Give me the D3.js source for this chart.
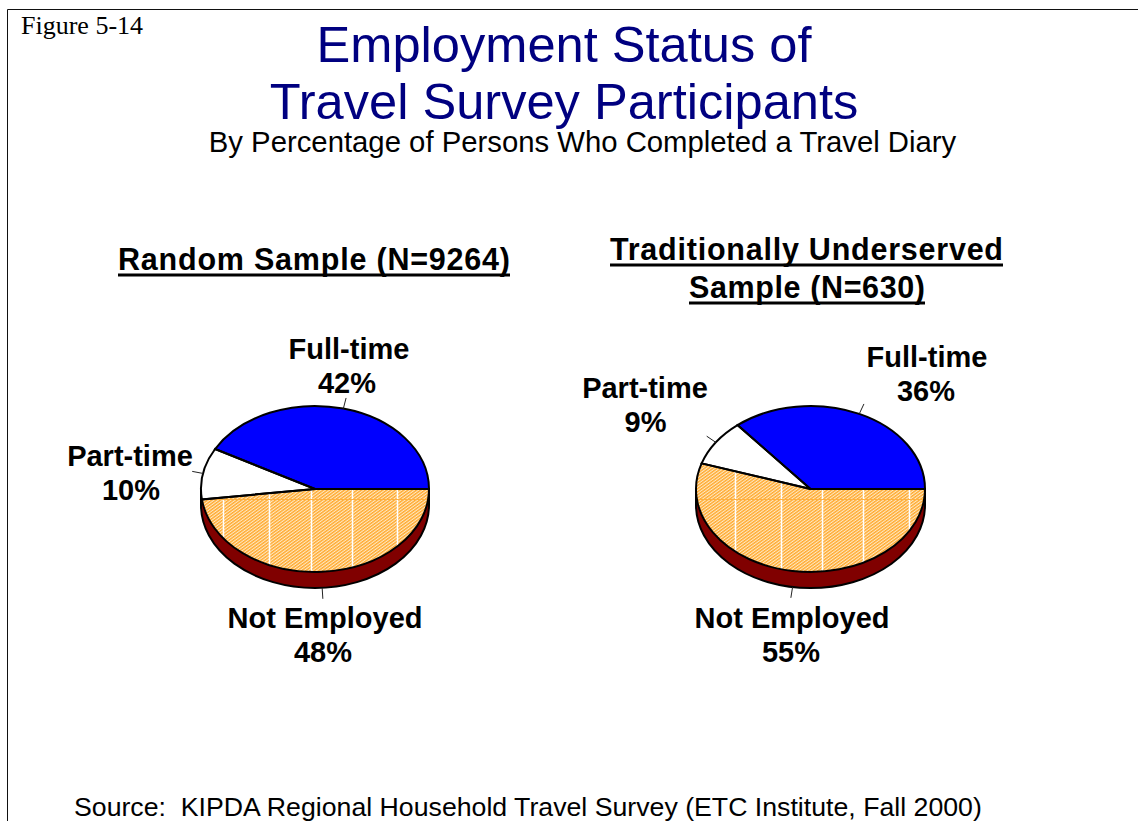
<!DOCTYPE html>
<html>
<head>
<meta charset="utf-8">
<style>
  html, body { margin: 0; padding: 0; background: #fff; overflow: hidden; }
  text { font-family: "Liberation Sans", Arial, sans-serif; fill: #000; }
</style>
<script src="https://cdn.jsdelivr.net/npm/d3@7"></script>
</head>
<body>
<svg id="svg-container" width="1138" height="821"></svg>
<script>
const categories = ['Full-time', 'Part-time', 'Not Employed']
const randomValues = [42, 10, 48]
const underservedValues = [36, 9, 55]
const sliceFills = ['#0000ff', '#ffffff', 'url(#hatch)']

const pies = [
  {
    id: 'random',
    values: randomValues,
    cx: 315, rx: 114,
    title: [{ text: 'Random Sample (N=9264)', x: 314, y: 270, w: 392 }],
    labels: [[349, 359, 347], [130, 466, 131], [325, 628, 323]],
    grid: [223, 269, 311, 352, 397],
  },
  {
    id: 'underserved',
    values: underservedValues,
    cx: 810.5, rx: 114.5,
    title: [
      { text: 'Traditionally Underserved', x: 806.5, y: 260, w: 393 },
      { text: 'Sample (N=630)', x: 807, y: 298, w: 236 },
    ],
    labels: [[927, 367, 926], [645, 398, 645.5], [792, 628, 791]],
    grid: [735, 781, 822, 863, 909],
  },
]

const cy = 489
const ry = 83
const depth = 16

const svg = d3.select('#svg-container')

// hatch for the not employed slice
const pattern = svg
  .append('defs')
  .append('pattern')
  .attr('id', 'hatch')
  .attr('patternUnits', 'userSpaceOnUse')
  .attr('width', 3)
  .attr('height', 3)
  .attr('patternTransform', 'rotate(-45)')
pattern.append('rect').attr('width', 3).attr('height', 3).attr('fill', '#ffe9c4')
pattern.append('rect').attr('width', 3).attr('height', 1.7).attr('fill', '#ffa92e')

// frame, only top and left
svg
  .append('path')
  .attr('d', 'M1138 9.5 H7.5 V821')
  .attr('fill', 'none')
  .attr('stroke', '#111')
  .attr('stroke-width', 1)

svg
  .append('text')
  .attr('x', 21)
  .attr('y', 34)
  .attr('font-size', 26)
  .style('font-family', '"Liberation Serif", "Times New Roman", serif')
  .text('Figure 5-14')

const headLines = [
  { text: 'Employment Status of', y: 62 },
  { text: 'Travel Survey Participants', y: 119 },
]
svg
  .selectAll('.head')
  .data(headLines)
  .join('text')
  .attr('class', 'head')
  .attr('x', 564)
  .attr('y', d => d.y)
  .attr('text-anchor', 'middle')
  .attr('font-size', 50.6)
  .style('fill', '#000080')
  .text(d => d.text)

svg
  .append('text')
  .attr('x', 582.5)
  .attr('y', 152)
  .attr('text-anchor', 'middle')
  .attr('font-size', 29.3)
  .text('By Percentage of Persons Who Completed a Travel Diary')

svg
  .append('text')
  .attr('x', 74)
  .attr('y', 816)
  .attr('font-size', 26.7)
  .style('white-space', 'pre')
  .text('Source:  KIPDA Regional Household Travel Survey (ETC Institute, Fall 2000)')

function drawPie(p) {
  const g = svg.append('g').attr('class', 'pie-' + p.id)

  // counter clockwise from 3 o'clock
  const arcs = d3
    .pie()
    .sort(null)
    .startAngle(Math.PI / 2)
    .endAngle(Math.PI / 2 - 2 * Math.PI)(p.values)
  const arc = d3.arc().innerRadius(0).outerRadius(p.rx)
  const squash = `translate(${p.cx},${cy}) scale(1,${ry / p.rx})`

  // side wall
  g.append('path')
    .attr(
      'd',
      `M${p.cx + p.rx} ${cy} V${cy + depth} A${p.rx} ${ry} 0 0 1 ${p.cx - p.rx} ${cy + depth} V${cy} Z`
    )
    .attr('fill', '#800000')
    .attr('stroke', '#000')
    .attr('stroke-width', 2)

  g.selectAll('.slice')
    .data(arcs)
    .join('path')
    .attr('class', 'slice')
    .attr('transform', squash)
    .attr('d', arc)
    .attr('fill', (d, i) => sliceFills[i])

  // grid shows through the hatch only
  const clipId = 'clip-' + p.id
  g.append('clipPath')
    .attr('id', clipId)
    .append('path')
    .attr('transform', squash)
    .attr('d', arc(arcs[2]))
  const gridG = g.append('g').attr('clip-path', `url(#${clipId})`)
  gridG
    .selectAll('line.v')
    .data(p.grid)
    .join('line')
    .attr('class', 'v')
    .attr('x1', d => d + 0.5)
    .attr('x2', d => d + 0.5)
    .attr('y1', cy - ry)
    .attr('y2', cy + ry)
    .attr('stroke', '#fff')
    .attr('stroke-width', 1.5)
  gridG
    .append('line')
    .attr('x1', p.cx - p.rx)
    .attr('x2', p.cx + p.rx)
    .attr('y1', cy + 10.5)
    .attr('y2', cy + 10.5)
    .attr('stroke', '#ffb040')
    .attr('stroke-width', 1)

  g.selectAll('.edge')
    .data(arcs)
    .join('path')
    .attr('class', 'edge')
    .attr('transform', squash)
    .attr('d', arc)
    .attr('fill', 'none')
    .attr('stroke', '#000')
    .attr('stroke-width', 2)
    .attr('vector-effect', 'non-scaling-stroke')

  // leader ticks
  g.selectAll('.leader')
    .data(arcs)
    .join('line')
    .attr('class', 'leader')
    .each(function (d) {
      const a = (d.startAngle + d.endAngle) / 2
      const drop = Math.cos(a) < 0 ? depth : 0
      d3.select(this)
        .attr('x1', p.cx + p.rx * Math.sin(a))
        .attr('y1', cy - ry * Math.cos(a) + drop)
        .attr('x2', p.cx + (p.rx + 11) * Math.sin(a))
        .attr('y2', cy - (ry + 11) * Math.cos(a) + drop)
    })
    .attr('stroke', '#222')
    .attr('stroke-width', 1)

  // titles
  p.title.forEach(t => {
    g.append('text')
      .attr('x', t.x)
      .attr('y', t.y)
      .attr('text-anchor', 'middle')
      .attr('font-size', 30.5)
      .attr('font-weight', 'bold')
      .attr('textLength', t.w)
      .attr('lengthAdjust', 'spacing')
      .text(t.text)
    g.append('line')
      .attr('x1', t.x - t.w / 2)
      .attr('x2', t.x + t.w / 2)
      .attr('y1', t.y + 5)
      .attr('y2', t.y + 5)
      .attr('stroke', '#000')
      .attr('stroke-width', 3)
  })

  // slice labels
  const labelG = g
    .selectAll('.label')
    .data(categories)
    .join('text')
    .attr('class', 'label')
    .attr('text-anchor', 'middle')
    .attr('font-size', 29)
    .attr('font-weight', 'bold')
  labelG
    .append('tspan')
    .attr('x', (d, i) => p.labels[i][0])
    .attr('y', (d, i) => p.labels[i][1])
    .text(d => d)
  labelG
    .append('tspan')
    .attr('x', (d, i) => p.labels[i][2])
    .attr('y', (d, i) => p.labels[i][1] + 34)
    .text((d, i) => p.values[i] + '%')
}

pies.forEach(drawPie)
</script>
</body>
</html>
